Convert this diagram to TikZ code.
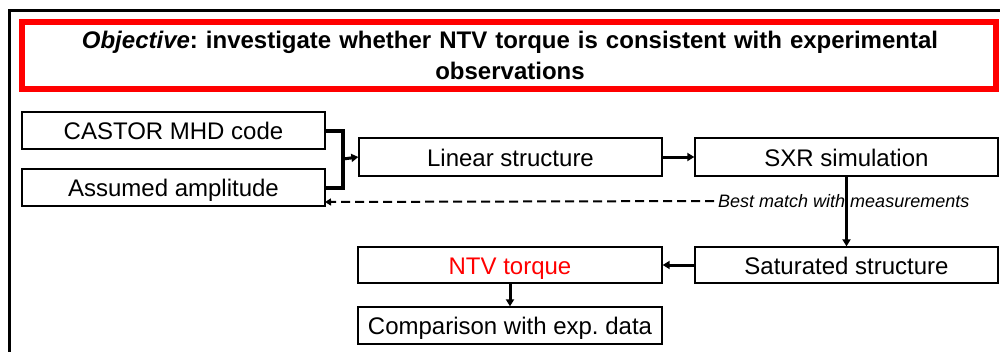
\documentclass[tikz,border=0pt]{standalone}
\usepackage{fontspec}
\setmainfont{Liberation Sans}
\usetikzlibrary{arrows.meta}
\frenchspacing
\begin{document}
\begin{tikzpicture}[x=1pt,y=-1pt,
  box/.style={draw=black,line width=1.3pt,inner sep=0pt,minimum width=303pt,minimum height=37pt,text height=20pt,text depth=2pt,font=\fontsize{24}{28}\selectfont},
  link/.style={line width=3pt,-{Triangle[length=7pt,width=8pt]}},
  bar/.style={line width=4pt},
  dashlink/.style={line width=2pt,dash pattern=on 9pt off 5pt,-{Triangle[length=6pt,width=7pt]}}]
\useasboundingbox (0,0) rectangle (1000,351);
\draw[line width=3pt] (9.5,352) -- (9.5,10) -- (1001,10);
\draw[red,line width=5.5pt] (22,22) rectangle (996,89);
\node[align=center,text width=960pt,font=\fontsize{24}{31}\selectfont\bfseries] (title) at (510,55)
  {\textit{Objective}: investigate whether NTV torque is consistent with experimental\\observations};
\node[box] (castor) at (173.5,130.5) {CASTOR MHD code};
\node[box] (assumed) at (173.5,187.5) {Assumed amplitude};
\node[box,minimum height=38pt] (linear) at (510.5,157) {Linear structure};
\node[box,minimum height=38pt] (sxr) at (846.5,157) {SXR simulation};
\node[box,minimum height=36pt] (sat) at (846.5,265) {Saturated structure};
\node[box,minimum height=36pt,minimum width=304pt,text=red] (ntv) at (510,265) {NTV torque};
\node[box,minimum width=304pt] (comp) at (510,325.5) {Comparison with exp. data};
\node[anchor=west,inner sep=0pt,font=\fontsize{18}{22}\selectfont\itshape] (best) at (718,201) {Best match with measurements};
\coordinate (join) at (343,159);
\coordinate (dashend) at (325,202);
\draw[bar] (castor.east) -| (join) |- (assumed.east);
\draw[link] (join) -- (linear.west);
\draw[link] (linear.east) -- (sxr.west);
\draw[link] (sxr.south) -- (sat.north);
\draw[link] (sat.west) -- (ntv.east);
\draw[link] (ntv.south) -- (comp.north);
\draw[dashlink] ([xshift=-4pt]best.west) -- (dashend);
\end{tikzpicture}
\end{document}
